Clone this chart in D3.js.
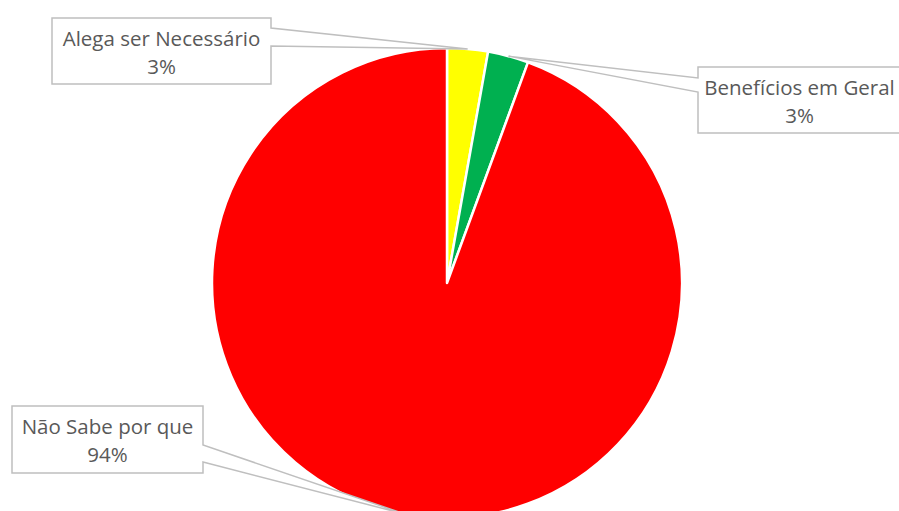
<!DOCTYPE html>
<html><head><meta charset="utf-8">
<script src="https://cdn.jsdelivr.net/npm/d3@7"></script>
<style>html,body{margin:0;padding:0;background:#fff;overflow:hidden}svg{display:block}</style>
</head><body>
<svg id="chart" width="899" height="511"></svg>
<script>
// ---- data ----
const categories = ["Alega ser Necessário", "Benefícios em Geral", "Não Sabe por que"];
const values = [2.8, 2.8, 94.4];
const colors = ["#FFFF00", "#00B050", "#FF0000"];

// ---- layout ----
const W = 899, H = 511;
const cx = 447, cy = 283, R = 235;
// label boxes: position/size and wedge attachment offsets (relative to box top)
const boxes = [
  {x: 52, y: 18, w: 219, h: 66, side: "right", w1: 10, w2: 28},
  {x: 698, y: 67, w: 203, h: 66, side: "left", w1: 11, w2: 25},
  {x: 12, y: 406, w: 191, h: 67, side: "right", w1: 39, w2: 56}
];

const svg = d3.select("#chart");
const total = d3.sum(values);
const pie = d3.pie().sort(null).value(d => d)(values);
const arc = d3.arc().innerRadius(0).outerRadius(R);

const g = svg.append("g").attr("transform", `translate(${cx},${cy})`);
g.selectAll("path").data(pie).join("path")
  .attr("d", arc)
  .attr("fill", (d, i) => colors[i])
  .attr("stroke", "#fff")
  .attr("stroke-width", 2.5)
  .attr("stroke-linejoin", "round");

// callouts
const fmt = v => Math.round(v / total * 100) + "%";
pie.forEach((d, i) => {
  const b = boxes[i];
  const a = (d.startAngle + d.endAngle) / 2;
  const tx = cx + R * Math.sin(a), ty = cy - R * Math.cos(a);
  let p;
  const x0 = b.x, x1 = b.x + b.w, y0 = b.y, y1 = b.y + b.h;
  if (b.side === "right") {
    p = `M${x0},${y0}H${x1}V${y0 + b.w1}L${tx},${ty}L${x1},${y0 + b.w2}V${y1}H${x0}Z`;
  } else {
    p = `M${x0},${y0}H${x1}V${y1}H${x0}V${y0 + b.w2}L${tx},${ty}L${x0},${y0 + b.w1}Z`;
  }
  svg.append("path").attr("d", p)
    .attr("fill", "#fff").attr("stroke", "#BFBFBF").attr("stroke-width", 1.5);
  const t = svg.append("text")
    .attr("x", b.x + b.w / 2).attr("text-anchor", "middle")
    .attr("font-family", "'Open Sans', sans-serif").attr("font-size", 20.5)
    .attr("fill", "#595959");
  t.append("tspan").attr("x", b.x + b.w / 2).attr("y", b.y + 28).text(categories[i]);
  t.append("tspan").attr("x", b.x + b.w / 2).attr("y", b.y + 56).text(fmt(values[i]));
});
</script>
</body></html>
